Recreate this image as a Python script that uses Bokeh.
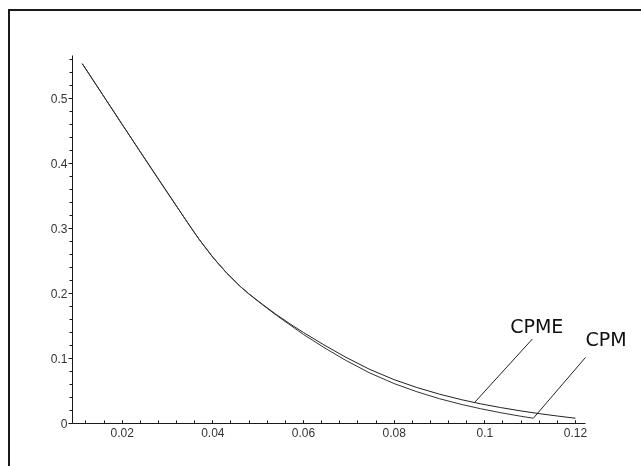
from bokeh.plotting import figure
from bokeh.models import Range1d, FixedTicker, Label
from bokeh.embed import file_html
from bokeh.resources import INLINE

# ---- data ----
x_cpme = [0.0112, 0.0164, 0.020, 0.024, 0.028, 0.032, 0.0353, 0.037, 0.040, 0.043, 0.046,
          0.0479, 0.051, 0.054, 0.057, 0.060, 0.0645, 0.0692, 0.0745, 0.080, 0.085, 0.090,
          0.095, 0.0991, 0.1035, 0.108, 0.112, 0.116, 0.120]
y_cpme = [0.5534, 0.4982, 0.4600, 0.4178, 0.3758, 0.3342, 0.3000, 0.2830, 0.2557, 0.2318, 0.2111,
          0.1998, 0.1830, 0.1676, 0.1533, 0.1399, 0.1210, 0.1024, 0.0836, 0.0674, 0.0554, 0.0451,
          0.0364, 0.0302, 0.0245, 0.0193, 0.0152, 0.0115, 0.0081]

x_cpm = [0.0112, 0.0164, 0.020, 0.024, 0.028, 0.032, 0.0353, 0.037, 0.040, 0.043, 0.046,
         0.0479, 0.051, 0.054, 0.057, 0.060, 0.0645, 0.0692, 0.0745, 0.080, 0.085, 0.090,
         0.095, 0.0991, 0.1035, 0.108, 0.1107]
y_cpm = [0.5534, 0.4982, 0.4600, 0.4178, 0.3758, 0.3342, 0.3000, 0.2830, 0.2557, 0.2318, 0.2111,
         0.1995, 0.1824, 0.1665, 0.1517, 0.1369, 0.1170, 0.0976, 0.0781, 0.0614, 0.0489, 0.0381,
         0.0291, 0.0227, 0.0166, 0.0111, 0.0081]

x_ticks = [0.02, 0.04, 0.06, 0.08, 0.1, 0.12]
x_tick_labels = ["0.02", "0.04", "0.06", "0.08", "0.1", "0.12"]
y_ticks = [0.0, 0.1, 0.2, 0.3, 0.4, 0.5]
y_tick_labels = ["0", "0.1", "0.2", "0.3", "0.4", "0.5"]

curve_names = ["CPME", "CPM"]
label_x = [0.1056, 0.1222]
label_y = [0.1323, 0.1138]
# pointer: from a point on the curve up to its label
ptr_from_x = [0.0977, 0.1107]
ptr_from_y = [0.0320, 0.0081]
ptr_to_x = [0.1105, 0.1222]
ptr_to_y = [0.1300, 0.1015]

x_start, x_axis_end = 0.00904, 0.1222
y_start, y_end = 0.0, 0.566
px_per_x = 4533.0

# the drawing is a cut-out of a larger framed page: the frame continues past the window
W, H = 700, 470
border_l, border_t, border_b, border_r = 62, 44, 58, 0
x_end = x_start + (W - border_l - border_r) / px_per_x

p = figure(width=W, height=H, output_backend="svg", toolbar_location=None,
           x_range=Range1d(x_start, x_end), y_range=Range1d(y_start, y_end),
           min_border_left=border_l, min_border_top=border_t,
           min_border_bottom=border_b, min_border_right=border_r,
           background_fill_color="white", border_fill_color="white",
           styles={"position": "fixed", "left": "8px", "top": "9px",
                   "border-top": "2px solid #1a1a1a", "border-left": "2px solid #1a1a1a"})
p.outline_line_color = None
p.grid.visible = False

# axes
p.xaxis.bounds = (x_start, x_axis_end)
p.xaxis.ticker = FixedTicker(ticks=x_ticks,
                             minor_ticks=[round(0.012 + 0.004 * i, 4) for i in range(28)])
p.xaxis.major_label_overrides = {t: s for t, s in zip(x_ticks, x_tick_labels)}
p.yaxis.ticker = FixedTicker(ticks=y_ticks,
                             minor_ticks=[round(0.02 * i, 3) for i in range(1, 29)])
p.yaxis.major_label_overrides = {t: s for t, s in zip(y_ticks, y_tick_labels)}

for ax in (p.xaxis, p.yaxis):
    ax.axis_line_color = "#1a1a1a"
    ax.axis_line_width = 1
    ax.major_tick_line_color = "#1a1a1a"
    ax.minor_tick_line_color = "#1a1a1a"
    ax.major_label_text_font = "Liberation Sans"
    ax.major_label_text_font_size = "12px"
    ax.major_label_text_color = "#333333"

p.xaxis.major_tick_in = 3
p.xaxis.major_tick_out = 0
p.xaxis.minor_tick_in = 3
p.xaxis.minor_tick_out = 0
p.xaxis.major_label_standoff = 4

p.yaxis.major_tick_in = 0
p.yaxis.major_tick_out = 4
p.yaxis.minor_tick_in = 0
p.yaxis.minor_tick_out = 3
p.yaxis.major_label_standoff = 1

# curves
p.line(x_cpme, y_cpme, line_color="#222222", line_width=1)
p.line(x_cpm, y_cpm, line_color="#333333", line_width=1)

# pointers and labels
p.segment(ptr_from_x, ptr_from_y, ptr_to_x, ptr_to_y, line_color="#222222", line_width=1)
for name, tx, ty in zip(curve_names, label_x, label_y):
    p.add_layout(Label(x=tx, y=ty, text=name,
                       text_align="left", text_baseline="bottom",
                       text_font="DejaVu Sans", text_font_size="19px", text_color="#111111"))

open("out.html", "w").write(file_html(p, INLINE))
